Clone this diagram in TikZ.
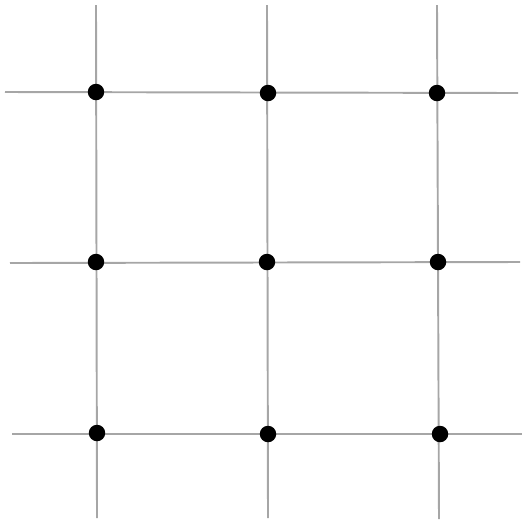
\documentclass[tikz,border=0pt]{standalone}
\usepackage{tikz}

\begin{document}
\begin{tikzpicture}[x=0.02cm,y=-0.02cm]
  \tikzstyle{gridline}=[draw=black!35,line width=1.1pt]
  \tikzstyle{dot}=[circle,fill=black,inner sep=0pt,minimum size=0.33cm]
  \useasboundingbox (0,0) rectangle (524,522);

  % line ends
  \coordinate (v1top) at (96,5);   \coordinate (v1bot) at (97,518);
  \coordinate (v2top) at (267,5);  \coordinate (v2bot) at (268,518);
  \coordinate (v3top) at (437,5);  \coordinate (v3bot) at (439,519);
  \coordinate (h1left) at (5,92);   \coordinate (h1right) at (518,93);
  \coordinate (h2left) at (10,263); \coordinate (h2right) at (520,262);
  \coordinate (h3left) at (12,434); \coordinate (h3right) at (522,434);

  \draw[gridline] (v1top) -- (v1bot);
  \draw[gridline] (v2top) -- (v2bot);
  \draw[gridline] (v3top) -- (v3bot);
  \draw[gridline] (h1left) -- (h1right);
  \draw[gridline] (h2left) -- (h2right);
  \draw[gridline] (h3left) -- (h3right);

  % crossings
  \node[dot] (p11) at (96,92) {};
  \node[dot] (p12) at (268,93) {};
  \node[dot] (p13) at (437,93) {};
  \node[dot] (p21) at (96,262) {};
  \node[dot] (p22) at (267,262) {};
  \node[dot] (p23) at (438,262) {};
  \node[dot] (p31) at (97,433) {};
  \node[dot] (p32) at (268,434) {};
  \node[dot] (p33) at (440,434) {};
\end{tikzpicture}
\end{document}
